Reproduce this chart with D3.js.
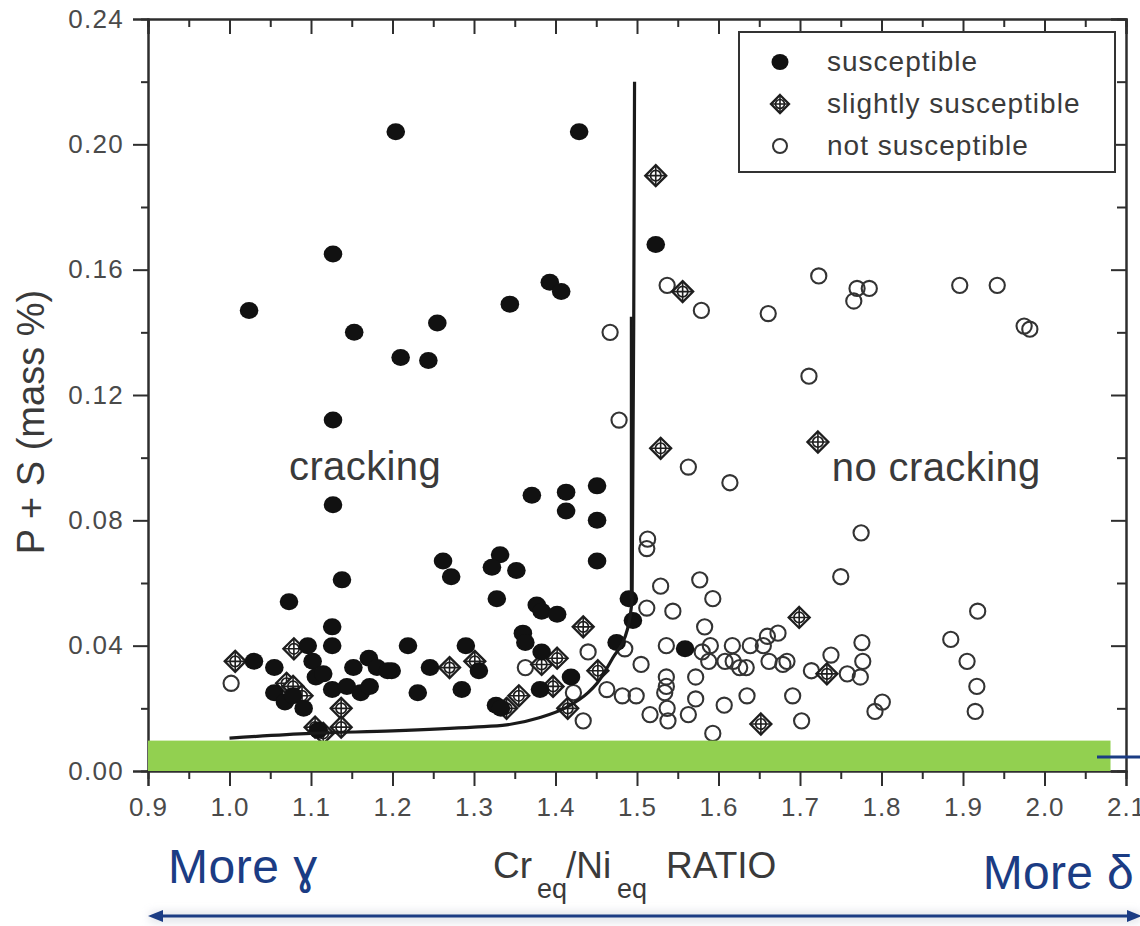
<!DOCTYPE html>
<html>
<head>
<meta charset="utf-8">
<script src="https://cdn.jsdelivr.net/npm/d3@7"></script>
<style>
  html, body { margin: 0; padding: 0; background: #ffffff; }
  svg { display: block; font-family: "Liberation Sans", Arial, Helvetica, sans-serif; }
</style>
</head>
<body>
<svg id="chart" width="1140" height="926"></svg>
<script>
// ---------- DATA ----------
const xMajorTicks = [0.9, 1.0, 1.1, 1.2, 1.3, 1.4, 1.5, 1.6, 1.7, 1.8, 1.9, 2.0, 2.1];
const xMinorTicks = [0.95, 1.05, 1.15, 1.25, 1.35, 1.45, 1.55, 1.65, 1.75, 1.85, 1.95, 2.05];
const yMajorTicks = [0.00, 0.04, 0.08, 0.12, 0.16, 0.20, 0.24];
const yMinorTicks = [0.02, 0.06, 0.10, 0.14, 0.18, 0.22];

const legendLabels = ["susceptible", "slightly susceptible", "not susceptible"];

// susceptible (filled circles) [Creq/Nieq, P+S]
const susceptible = [
  [1.024,0.147],[1.204,0.204],[1.429,0.204],[1.127,0.165],[1.153,0.140],[1.210,0.132],
  [1.244,0.131],[1.255,0.143],[1.344,0.149],[1.393,0.156],[1.407,0.153],[1.523,0.168],
  [1.127,0.112],[1.127,0.085],[1.138,0.061],[1.073,0.054],[1.371,0.088],[1.413,0.089],
  [1.413,0.083],[1.451,0.091],[1.451,0.080],[1.451,0.067],[1.262,0.067],[1.272,0.062],
  [1.332,0.069],[1.322,0.065],[1.352,0.064],[1.328,0.055],[1.377,0.053],[1.383,0.051],
  [1.402,0.050],[1.490,0.055],[1.495,0.048],[1.360,0.044],[1.363,0.041],[1.383,0.038],
  [1.475,0.041],[1.419,0.030],[1.219,0.040],[1.290,0.040],[1.199,0.032],[1.246,0.033],
  [1.306,0.032],[1.231,0.025],[1.285,0.026],[1.327,0.021],[1.333,0.020],[1.381,0.026],
  [1.559,0.039],[1.126,0.046],[1.126,0.040],[1.096,0.040],[1.030,0.035],[1.102,0.035],
  [1.055,0.033],[1.106,0.030],[1.115,0.031],[1.126,0.026],[1.144,0.027],[1.152,0.033],
  [1.171,0.036],[1.181,0.033],[1.194,0.032],[1.161,0.025],[1.172,0.027],[1.055,0.025],
  [1.068,0.022],[1.078,0.024],[1.091,0.020],[1.109,0.013]
];

// slightly susceptible (diamond with cross-hair)
const slightly = [
  [1.523,0.190],[1.556,0.153],[1.529,0.103],[1.722,0.105],[1.699,0.049],[1.733,0.031],
  [1.652,0.015],[1.079,0.039],[1.007,0.035],[1.070,0.028],[1.078,0.027],[1.089,0.024],
  [1.137,0.020],[1.105,0.014],[1.115,0.012],[1.137,0.014],[1.270,0.033],[1.301,0.035],
  [1.340,0.020],[1.355,0.024],[1.402,0.036],[1.383,0.034],[1.397,0.027],[1.415,0.020],
  [1.434,0.046],[1.452,0.032]
];

// not susceptible (open circles)
const notSusceptible = [
  [1.002,0.028],[1.363,0.033],[1.440,0.038],[1.485,0.039],[1.422,0.025],[1.434,0.016],
  [1.463,0.026],[1.482,0.024],[1.499,0.024],[1.467,0.140],[1.478,0.112],[1.537,0.155],
  [1.579,0.147],[1.563,0.097],[1.614,0.092],[1.513,0.074],[1.512,0.071],[1.529,0.059],
  [1.577,0.061],[1.593,0.055],[1.512,0.052],[1.544,0.051],[1.583,0.046],[1.536,0.040],
  [1.580,0.038],[1.590,0.040],[1.617,0.040],[1.639,0.040],[1.660,0.043],[1.673,0.044],
  [1.655,0.040],[1.776,0.041],[1.885,0.042],[1.505,0.034],[1.588,0.035],[1.608,0.035],
  [1.626,0.033],[1.634,0.033],[1.662,0.035],[1.679,0.034],[1.684,0.035],[1.738,0.037],
  [1.777,0.035],[1.905,0.035],[1.536,0.030],[1.572,0.030],[1.714,0.032],[1.758,0.031],
  [1.774,0.030],[1.534,0.025],[1.917,0.027],[1.537,0.020],[1.572,0.023],[1.607,0.021],
  [1.635,0.024],[1.691,0.024],[1.801,0.022],[1.792,0.019],[1.915,0.019],[1.516,0.018],
  [1.538,0.016],[1.563,0.018],[1.702,0.016],[1.593,0.012],[1.918,0.051],[1.723,0.158],
  [1.661,0.146],[1.770,0.154],[1.785,0.154],[1.766,0.150],[1.896,0.155],[1.942,0.155],
  [1.975,0.142],[1.982,0.141],[1.711,0.126],[1.775,0.076],[1.750,0.062],[1.536,0.027],
  [1.618,0.035]
];

// cracking / no-cracking boundary
const boundaryX = [1.00, 1.10, 1.20, 1.30, 1.34, 1.38, 1.414, 1.44, 1.451, 1.47, 1.488, 1.494, 1.496, 1.497];
const boundaryY = [0.0105, 0.012, 0.0128, 0.014, 0.0147, 0.017, 0.0204, 0.025, 0.028, 0.036, 0.045, 0.055, 0.145, 0.22];
const boundaryThickX = [1.493, 1.493];
const boundaryThickY = [0.055, 0.145];

// green highlight band (x range, y range)
const bandX = [0.9, 2.081];
const bandY = [0.0, 0.0097];

// ---------- DRAW ----------
const svg = d3.select("#chart");
const x = d3.scaleLinear().domain([0.9, 2.1]).range([148, 1126]);
const y = d3.scaleLinear().domain([0, 0.24]).range([771, 19]);

const axisColor = "#2e2e2e";
const labelColor = "#4a4a4a";

function styleAxis(g) {
  g.select(".domain").attr("stroke", axisColor).attr("stroke-width", 2);
  g.selectAll(".tick line").attr("stroke", axisColor).attr("stroke-width", 2);
}

// major / minor axes
const axLeft = svg.append("g").attr("transform", `translate(${x(0.9)},0)`)
  .call(d3.axisLeft(y).tickValues(yMajorTicks).tickSize(15).tickPadding(9).tickFormat(d3.format(".2f")));
styleAxis(axLeft);
axLeft.selectAll("text").attr("fill", labelColor).attr("font-size", 26).attr("letter-spacing", 1.3);
const axLeftMinor = svg.append("g").attr("transform", `translate(${x(0.9)},0)`)
  .call(d3.axisLeft(y).tickValues(yMinorTicks).tickSize(7).tickFormat(""));
styleAxis(axLeftMinor);

const axBottom = svg.append("g").attr("transform", `translate(0,${y(0)})`)
  .call(d3.axisBottom(x).tickValues(xMajorTicks).tickSize(15).tickPadding(12).tickFormat(d3.format(".1f")));
styleAxis(axBottom);
axBottom.selectAll("text").attr("fill", labelColor).attr("font-size", 26).attr("letter-spacing", 1);
const axBottomMinor = svg.append("g").attr("transform", `translate(0,${y(0)})`)
  .call(d3.axisBottom(x).tickValues(xMinorTicks).tickSize(8).tickFormat(""));
styleAxis(axBottomMinor);

const axTop = svg.append("g").attr("transform", `translate(0,${y(0.24)})`)
  .call(d3.axisBottom(x).tickValues(xMajorTicks).tickSize(15).tickFormat(""));
styleAxis(axTop);
const axTopMinor = svg.append("g").attr("transform", `translate(0,${y(0.24)})`)
  .call(d3.axisBottom(x).tickValues(xMinorTicks).tickSize(8).tickFormat(""));
styleAxis(axTopMinor);

const axRight = svg.append("g").attr("transform", `translate(${x(2.1)},0)`)
  .call(d3.axisLeft(y).tickValues(yMajorTicks).tickSize(15).tickFormat(""));
styleAxis(axRight);
const axRightMinor = svg.append("g").attr("transform", `translate(${x(2.1)},0)`)
  .call(d3.axisLeft(y).tickValues(yMinorTicks).tickSize(9).tickFormat(""));
styleAxis(axRightMinor);

// markers
const markerStroke = "#1e1e1e";
const ptsG = svg.append("g");

ptsG.selectAll("circle.open").data(notSusceptible).join("circle")
  .attr("class", "open")
  .attr("cx", d => x(d[0])).attr("cy", d => y(d[1])).attr("r", 7.6)
  .attr("fill", "none").attr("stroke", "#333").attr("stroke-width", 2.1);

function diamond(g, cx, cy, s) {
  const dg = g.append("g").attr("transform", `translate(${cx},${cy})`);
  dg.append("path").attr("d", `M0,${-s}L${s},0L0,${s}L${-s},0Z`)
    .attr("fill", "#fff").attr("stroke", markerStroke).attr("stroke-width", 2.3);
  dg.append("circle").attr("r", s * 0.5).attr("fill", "none").attr("stroke", markerStroke).attr("stroke-width", 1.7);
  dg.append("path").attr("d", `M${-s},0H${s}M0,${-s}V${s}`).attr("stroke", markerStroke).attr("stroke-width", 1.6);
}
slightly.forEach(d => diamond(ptsG, x(d[0]), y(d[1]), 10.5));

ptsG.selectAll("ellipse.filled").data(susceptible).join("ellipse")
  .attr("class", "filled")
  .attr("cx", d => x(d[0])).attr("cy", d => y(d[1])).attr("rx", 9.3).attr("ry", 8.5)
  .attr("fill", "#111");

// boundary
const line = d3.line().x(d => x(d[0])).y(d => y(d[1])).curve(d3.curveMonotoneX);
svg.append("path").attr("d", line(boundaryX.map((v, i) => [v, boundaryY[i]])))
  .attr("fill", "none").attr("stroke", "#1a1a1a").attr("stroke-width", 3.2);
svg.append("path").attr("d", d3.line().x(d => x(d[0])).y(d => y(d[1]))(boundaryThickX.map((v, i) => [v, boundaryThickY[i]])))
  .attr("fill", "none").attr("stroke", "#1a1a1a").attr("stroke-width", 3);

// region labels
svg.append("text").attr("x", x(1.073)).attr("y", y(0.093)).text("cracking")
  .attr("font-size", 40).attr("letter-spacing", 0.4).attr("fill", "#3a3a3a");
svg.append("text").attr("x", x(1.739)).attr("y", y(0.0925)).text("no cracking")
  .attr("font-size", 40).attr("letter-spacing", 0.4).attr("fill", "#3a3a3a");

// legend
const lg = svg.append("g");
lg.append("rect").attr("x", 739).attr("y", 32).attr("width", 376).attr("height", 140)
  .attr("fill", "#fff").attr("stroke", "#333").attr("stroke-width", 2);
const rowsY = [62, 104, 146];
lg.append("ellipse").attr("cx", 780).attr("cy", rowsY[0]).attr("rx", 8.5).attr("ry", 8).attr("fill", "#111");
diamond(lg, 780, rowsY[1], 9);
lg.append("circle").attr("cx", 780).attr("cy", rowsY[2]).attr("r", 7).attr("fill", "none").attr("stroke", "#333").attr("stroke-width", 2);
legendLabels.forEach((t, i) => {
  lg.append("text").attr("x", 827).attr("y", rowsY[i] + 9).text(t)
    .attr("font-size", 28).attr("letter-spacing", 1).attr("fill", "#3a3a3a");
});

// axis titles
svg.append("text").attr("transform", "translate(44,422) rotate(-90)")
  .attr("text-anchor", "middle").attr("font-size", 38).attr("fill", "#3a3a3a")
  .text("P + S (mass %)");

const xt = svg.append("g").attr("fill", "#3a3a3a");
xt.append("text").attr("x", 493).attr("y", 878).attr("font-size", 37).text("Cr");
xt.append("text").attr("x", 537).attr("y", 898).attr("font-size", 27).text("eq");
xt.append("text").attr("x", 566).attr("y", 878).attr("font-size", 37).text("/Ni");
xt.append("text").attr("x", 617).attr("y", 898).attr("font-size", 27).text("eq");
xt.append("text").attr("x", 666).attr("y", 878).attr("font-size", 37).text("RATIO");

// green band
svg.append("rect")
  .attr("x", x(bandX[0])).attr("y", y(bandY[1]))
  .attr("width", x(bandX[1]) - x(bandX[0])).attr("height", y(bandY[0]) - y(bandY[1]))
  .attr("fill", "#92d050");

const blue = "#1b3c84";
svg.append("line").attr("x1", 1097).attr("x2", 1140).attr("y1", 757).attr("y2", 757)
  .attr("stroke", blue).attr("stroke-width", 3);

// More gamma / More delta
svg.append("text").attr("x", 168).attr("y", 883).attr("font-size", 48).attr("letter-spacing", 0.5).attr("fill", blue).text("More \u0263");
svg.append("text").attr("x", 1134).attr("y", 889).attr("text-anchor", "end").attr("font-size", 48).attr("letter-spacing", 0.3).attr("fill", blue).text("More \u03b4");

// double arrow with soft shadow
const defs = svg.append("defs");
defs.append("filter").attr("id", "blur").attr("x", "-5%").attr("y", "-200%").attr("width", "110%").attr("height", "500%")
  .append("feGaussianBlur").attr("stdDeviation", 4);
svg.append("rect").attr("x", 150).attr("y", 912).attr("width", 990).attr("height", 10)
  .attr("fill", "#c8ccd8").attr("opacity", 0.6).attr("filter", "url(#blur)");
svg.append("line").attr("x1", 160).attr("x2", 1128).attr("y1", 916).attr("y2", 916)
  .attr("stroke", blue).attr("stroke-width", 3);
svg.append("path").attr("d", "M148,916 L163,910 L163,922 Z").attr("fill", blue);
svg.append("path").attr("d", "M1142,916 L1127,910 L1127,922 Z").attr("fill", blue);
</script>
</body>
</html>
